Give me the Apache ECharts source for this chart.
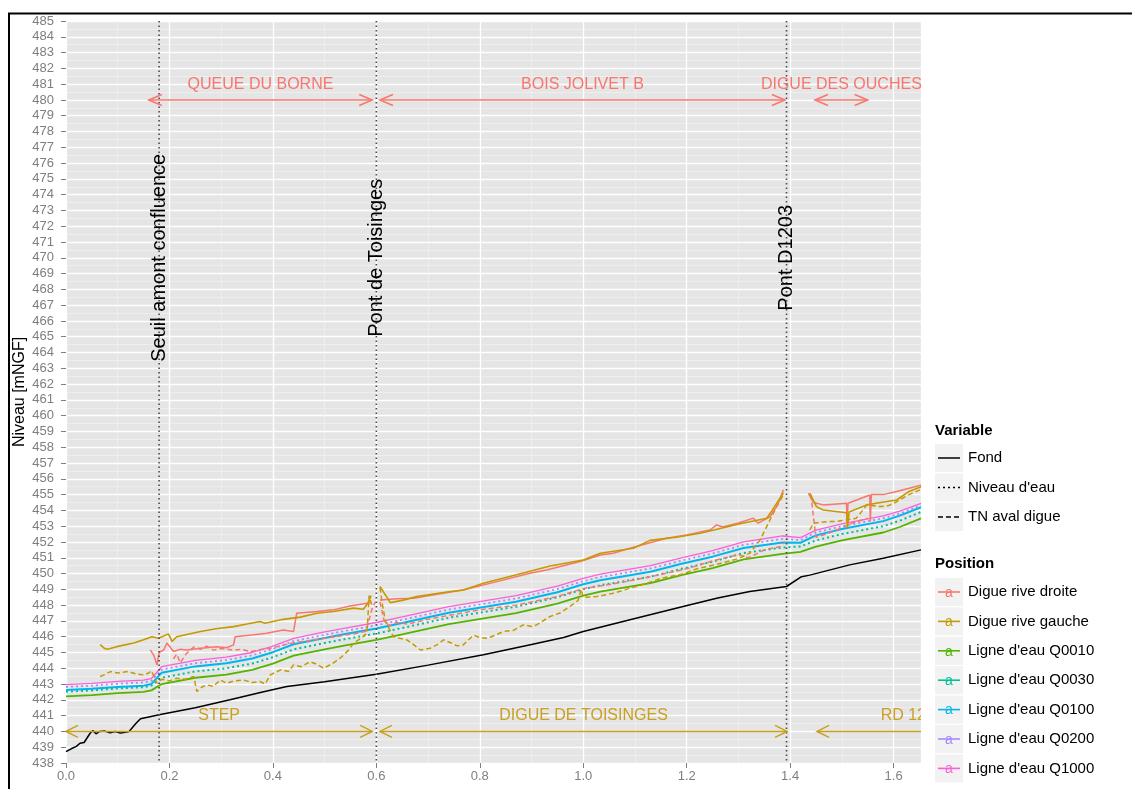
<!DOCTYPE html>
<html>
<head>
<meta charset="utf-8">
<script src="https://cdn.jsdelivr.net/npm/echarts@6/dist/echarts.min.js"></script>
<style>
  html, body { margin: 0; padding: 0; background: #ffffff; }
  #chart { width: 1132px; height: 789px; }
</style>
</head>
<body>
<div id="chart"></div>
<script>
// ---- Longitudinal profile: distance [km] vs level [mNGF] ----
const FONT = '"Liberation Sans", Arial, Helvetica, sans-serif';

// River bed (Fond)
const fond = [[0,438.72],[0.01,438.9],[0.02,439.05],[0.027,439.25],[0.035,439.3],[0.04,439.55],[0.047,439.9],[0.052,440.05],[0.058,439.85],[0.065,440.0],[0.075,440.02],[0.085,439.92],[0.095,440.0],[0.105,439.9],[0.115,439.95],[0.122,440.0],[0.135,440.5],[0.144,440.8],[0.16,440.92],[0.18,441.05],[0.25,441.5],[0.317,442.0],[0.38,442.5],[0.427,442.84],[0.5,443.15],[0.6,443.62],[0.7,444.2],[0.807,444.85],[0.9,445.5],[0.962,445.95],[1.0,446.33],[1.1,447.15],[1.193,447.91],[1.26,448.45],[1.322,448.86],[1.393,449.18],[1.422,449.8],[1.438,449.9],[1.515,450.55],[1.58,450.97],[1.653,451.5]];

// Water lines, one value per abscissa of waterX
const waterX = [0,0.05,0.1,0.15,0.165,0.185,0.25,0.31,0.36,0.40,0.44,0.5,0.54,0.6,0.65,0.74,0.87,0.95,1.0,1.033,1.13,1.19,1.25,1.31,1.385,1.42,1.45,1.5,1.58,1.612,1.653];
const q0010 = [442.22,442.3,442.42,442.5,442.6,443.0,443.4,443.6,443.9,444.3,444.8,445.2,445.45,445.8,446.15,446.8,447.5,448.1,448.6,448.86,449.4,449.9,450.35,450.9,451.25,451.37,451.7,452.1,452.6,452.95,453.5];
const q0030 = [442.52,442.6,442.72,442.8,442.9,443.4,443.8,444.0,444.3,444.7,445.2,445.6,445.85,446.2,446.55,447.2,447.9,448.5,449.0,449.26,449.8,450.3,450.75,451.3,451.65,451.72,452.1,452.5,453.0,453.35,453.9];
const q0100 = [442.62,442.7,442.82,442.9,443.0,443.72,444.12,444.32,444.62,445.02,445.52,445.92,446.17,446.52,446.87,447.52,448.22,448.82,449.32,449.58,450.12,450.62,451.07,451.62,451.97,451.95,452.42,452.82,453.32,453.67,454.2];
const q0200 = [442.82,442.9,443.02,443.1,443.2,443.92,444.32,444.52,444.82,445.22,445.72,446.12,446.37,446.72,447.07,447.72,448.42,449.02,449.52,449.78,450.32,450.82,451.27,451.82,452.2,452.12,452.6,453.0,453.5,453.8,454.32];
const q1000 = [442.97,443.05,443.17,443.25,443.35,444.1,444.5,444.7,445.0,445.4,445.9,446.3,446.55,446.9,447.25,447.9,448.6,449.2,449.7,449.96,450.5,451.0,451.45,452.0,452.38,452.28,452.75,453.15,453.65,453.95,454.45];

// Right-bank dike crest (Digue rive droite), split at the bridges
const digueRD = [
  [[0.163,445.16],[0.17,444.8],[0.176,444.2],[0.18,445.0],[0.189,445.16],[0.195,445.6],[0.208,445.06],[0.22,445.2],[0.234,445.16],[0.26,445.27],[0.292,445.37],[0.31,445.3],[0.324,445.48],[0.327,446.0],[0.363,446.12],[0.388,446.22],[0.42,446.43],[0.44,446.33],[0.446,447.49],[0.485,447.6],[0.517,447.7],[0.549,447.95],[0.582,448.12],[0.59,448.2]],
  [[0.607,448.33],[0.64,448.4],[0.672,448.44],[0.72,448.7],[0.768,448.96],[0.833,449.49],[0.897,450.02],[0.929,450.23],[0.994,450.76],[1.033,451.18],[1.058,451.29],[1.09,451.6],[1.161,452.23],[1.2,452.45],[1.245,452.76],[1.258,453.08],[1.27,452.95],[1.3,453.2],[1.329,453.51],[1.338,453.19],[1.361,453.6],[1.375,454.3],[1.387,455.3]],
  [[1.435,455.1],[1.445,454.5],[1.464,454.35],[1.509,454.45],[1.51,453.2],[1.512,454.45],[1.54,454.8],[1.554,454.98],[1.555,453.3],[1.557,455.0],[1.58,455.0],[1.606,455.2],[1.63,455.4],[1.653,455.6]]
];
// Left-bank dike crest (Digue rive gauche)
const digueRG = [
  [[0.066,445.5],[0.075,445.25],[0.08,445.2],[0.098,445.37],[0.131,445.6],[0.15,445.8],[0.166,446.0],[0.179,445.9],[0.198,446.18],[0.205,445.7],[0.214,446.0],[0.26,446.33],[0.29,446.5],[0.324,446.64],[0.35,446.8],[0.375,446.96],[0.385,446.85],[0.42,447.1],[0.453,447.24],[0.485,447.49],[0.517,447.6],[0.556,447.81],[0.575,447.74],[0.583,448.1],[0.59,448.6]],
  [[0.607,449.18],[0.627,448.16],[0.65,448.3],[0.678,448.54],[0.743,448.86],[0.768,448.96],[0.807,449.39],[0.871,449.92],[0.936,450.48],[1.0,450.86],[1.033,451.29],[1.097,451.6],[1.129,452.1],[1.18,452.3],[1.226,452.55],[1.277,452.95],[1.303,453.15],[1.355,453.5],[1.367,454.1],[1.387,455.1]],
  [[1.438,455.1],[1.451,454.24],[1.464,454.03],[1.509,453.85],[1.511,452.9],[1.514,453.9],[1.548,454.35],[1.575,454.5],[1.606,454.66],[1.63,455.2],[1.653,455.5]]
];
// Ground level behind the dikes (TN aval digue)
const tnRD = [
  [[0.208,444.6],[0.214,444.9],[0.221,444.35],[0.232,444.9],[0.247,445.35],[0.26,445.2],[0.272,445.4],[0.285,445.15],[0.3,445.25],[0.324,445.15],[0.34,445.2],[0.356,445.05],[0.38,445.2],[0.4,445.3],[0.43,445.55],[0.47,445.75],[0.5,445.9],[0.53,446.05],[0.56,446.2],[0.58,446.35],[0.592,447.8],[0.598,448.2]],
  [[0.607,448.2],[0.615,447.0],[0.625,446.7],[0.64,446.9],[0.66,446.8],[0.7,447.1],[0.74,447.35],[0.8,447.7],[0.87,448.0],[0.9,448.2],[0.95,448.55],[1.0,449.05],[1.05,449.3],[1.1,449.6],[1.13,449.8],[1.2,450.3],[1.25,450.8],[1.3,451.2],[1.32,451.0],[1.35,451.5],[1.38,451.7],[1.39,452.0]],
  [[1.44,455.0],[1.445,453.6],[1.45,452.3],[1.47,452.5],[1.5,452.9],[1.52,453.2],[1.55,453.5]]
];
const tnRG = [
  [[0.066,443.48],[0.075,443.6],[0.086,443.79],[0.1,443.7],[0.12,443.8],[0.135,443.65],[0.15,443.58],[0.16,443.7],[0.165,443.85],[0.176,443.05],[0.185,443.3],[0.2,443.2],[0.214,443.37],[0.23,443.3],[0.247,443.48],[0.253,442.53],[0.262,442.8],[0.272,442.95],[0.285,442.85],[0.298,443.26],[0.311,443.05],[0.325,443.2],[0.343,443.26],[0.36,443.1],[0.375,443.16],[0.385,443.0],[0.395,443.58],[0.415,443.9],[0.43,443.8],[0.44,444.21],[0.455,444.1],[0.472,444.42],[0.485,444.25],[0.498,444.0],[0.515,444.3],[0.53,444.64],[0.545,445.1],[0.556,445.59],[0.57,445.9],[0.582,446.22],[0.586,448.6],[0.591,448.0]],
  [[0.607,449.1],[0.612,448.0],[0.617,447.06],[0.625,446.5],[0.633,446.0],[0.645,445.9],[0.659,445.8],[0.672,445.5],[0.685,445.16],[0.704,445.27],[0.718,445.5],[0.73,445.8],[0.745,445.6],[0.756,445.42],[0.768,445.48],[0.788,446.1],[0.8,445.95],[0.814,445.9],[0.83,446.1],[0.846,446.33],[0.865,446.4],[0.884,446.75],[0.9,446.65],[0.91,446.75],[0.936,447.28],[0.955,447.5],[0.974,447.91],[0.99,448.3],[0.996,449.0],[1.0,448.5],[1.026,448.54],[1.058,448.75],[1.09,449.07],[1.12,449.35],[1.15,449.7],[1.19,449.95],[1.22,450.3],[1.26,450.6],[1.3,450.95],[1.322,451.29],[1.342,452.13],[1.361,453.4],[1.374,454.24],[1.387,454.98]],
  [[1.438,452.76],[1.445,453.19],[1.46,453.25],[1.477,453.29],[1.49,453.3],[1.51,453.4],[1.528,453.51],[1.54,454.0],[1.548,454.35],[1.574,454.24],[1.59,454.3],[1.606,454.55],[1.63,455.0],[1.651,455.3]]
];

// Structures (vertical markers) and reaches
const structures = [['Seuil amont confluence', 0.18], ['Pont de Toisinges', 0.6], ['Pont D1203', 1.393]];
const structureLabelLevel = 470;
const reachesTop = [['QUEUE DU BORNE', 0.16, 0.592], ['BOIS JOLIVET B', 0.607, 1.39], ['DIGUE DES OUCHES', 1.448, 1.55]];
const reachesBottom = [['STEP', 0, 0.592], ['DIGUE DE TOISINGES', 0.607, 1.394], ['RD 1203', 1.452, 1.82]];
const topLevel = 480, bottomLevel = 440;

// Legend entries
const variableItems = [['Fond', 'solid'], ["Niveau d'eau", [2, 3]], ['TN aval digue', [5, 3]]];
const positionItems = [
  ['Digue rive droite', '#F8766D'], ['Digue rive gauche', '#C49A00'],
  ["Ligne d'eau Q0010", '#53B400'], ["Ligne d'eau Q0030", '#00C094'],
  ["Ligne d'eau Q0100", '#00B6EB'], ["Ligne d'eau Q0200", '#A58AFF'],
  ["Ligne d'eau Q1000", '#FB61D7']
];

const RED = '#F8766D', GOLD = '#C49A00';

function lineSeries(data, color, type, width, z) {
  return {
    type: 'line', data: data, symbol: 'none', showSymbol: false, clip: true,
    silent: true, animation: false, z: z || 2,
    lineStyle: { color: color, width: width, type: type, cap: 'butt' }
  };
}
const pair = (ys) => waterX.map((x, i) => [x, ys[i]]);

const series = [];
series.push(lineSeries(pair(q0010), '#53B400', 'solid', 1.8));
series.push(lineSeries(pair(q0030), '#00C094', [2, 3], 2));
series.push(lineSeries(pair(q0100), '#00B6EB', 'solid', 2));
series.push(lineSeries(pair(q0200), '#A58AFF', [2, 3], 1.8));
series.push(lineSeries(pair(q1000), '#FB61D7', 'solid', 1.3));
tnRD.forEach(s => series.push(lineSeries(s, RED, [5, 3], 1.5, 3)));
tnRG.forEach(s => series.push(lineSeries(s, GOLD, [5, 3], 1.5, 3)));
digueRD.forEach(s => series.push(lineSeries(s, RED, 'solid', 1.5, 3)));
digueRG.forEach(s => series.push(lineSeries(s, GOLD, 'solid', 1.6, 3)));
series.push(lineSeries(fond, '#000000', 'solid', 1.5, 4));

// Dotted structure markers with rotated names
series.push({
  type: 'custom', clip: true, silent: true, animation: false, z: 5,
  data: structures.map(s => [s[1], structureLabelLevel]),
  renderItem: function (params, api) {
    const x = api.value(0);
    const top = api.coord([x, 485]);
    const bot = api.coord([x, 438]);
    const lab = api.coord([x, api.value(1)]);
    return {
      type: 'group', children: [
        { type: 'line', shape: { x1: top[0], y1: top[1], x2: bot[0], y2: bot[1] },
          style: { stroke: '#4a4a4a', lineWidth: 1.6, lineDash: [1.5, 3] } },
        { type: 'text', x: lab[0], y: lab[1], rotation: Math.PI / 2,
          style: { text: structures[params.dataIndex][0], fill: '#000', font: '20px ' + FONT,
                   align: 'center', verticalAlign: 'middle' } }
      ]
    };
  }
});

function reachSeries(list, level, color, head, spread) {
  return {
    type: 'custom', clip: true, silent: true, animation: false, z: 5,
    data: list.map(r => [r[1], r[2], level]),
    renderItem: function (params, api) {
      const a = api.coord([api.value(0), api.value(2)]);
      const b = api.coord([api.value(1), api.value(2)]);
      const t = api.coord([(api.value(0) + api.value(1)) / 2, api.value(2) + 1]);
      const st = { stroke: color, lineWidth: 1.5, fill: null };
      return {
        type: 'group', children: [
          { type: 'line', shape: { x1: a[0], y1: a[1], x2: b[0], y2: b[1] }, style: st },
          { type: 'polyline', shape: { points: [[a[0] + head, a[1] - spread], [a[0], a[1]], [a[0] + head, a[1] + spread]] }, style: st },
          { type: 'polyline', shape: { points: [[b[0] - head, b[1] - spread], [b[0], b[1]], [b[0] - head, b[1] + spread]] }, style: st },
          { type: 'text', x: t[0], y: t[1],
            style: { text: list[params.dataIndex][0], fill: color, font: '16px ' + FONT,
                     align: 'center', verticalAlign: 'middle' } }
        ]
      };
    }
  };
}
series.push(reachSeries(reachesTop, topLevel, RED, 13, 5.5));
series.push(reachSeries(reachesBottom, bottomLevel, '#C9A020', 12, 6));

// Legend drawn as graphic elements
const legend = [];
const LX = 935, KEY_W = 28, KEY_H = 28, TX = 968;
legend.push({ type: 'text', left: LX, top: 423, style: { text: 'Variable', font: 'bold 15px ' + FONT, fill: '#000' } });
variableItems.forEach((it, i) => {
  const cy = 458 + i * 29.5;
  legend.push({ type: 'rect', shape: { x: LX, y: cy - KEY_H / 2, width: KEY_W, height: KEY_H }, style: { fill: '#F2F2F2' } });
  legend.push({ type: 'line', shape: { x1: LX + 3, y1: cy, x2: LX + KEY_W - 3, y2: cy },
    style: { stroke: '#000', lineWidth: 1.5, lineDash: it[1] === 'solid' ? null : it[1] } });
  legend.push({ type: 'text', x: TX, y: cy, style: { text: it[0], font: '15px ' + FONT, fill: '#000', verticalAlign: 'middle' } });
});
legend.push({ type: 'text', left: LX, top: 556, style: { text: 'Position', font: 'bold 15px ' + FONT, fill: '#000' } });
positionItems.forEach((it, i) => {
  const cy = 592 + i * 29.4;
  legend.push({ type: 'rect', shape: { x: LX, y: cy - KEY_H / 2, width: KEY_W, height: KEY_H }, style: { fill: '#F2F2F2' } });
  legend.push({ type: 'line', shape: { x1: LX + 3, y1: cy, x2: LX + KEY_W - 3, y2: cy }, style: { stroke: it[1], lineWidth: 1.6 } });
  legend.push({ type: 'text', x: LX + KEY_W / 2, y: cy + 1, style: { text: 'a', font: '14px ' + FONT, fill: it[1], align: 'center', verticalAlign: 'middle' } });
  legend.push({ type: 'text', x: TX, y: cy, style: { text: it[0], font: '15px ' + FONT, fill: '#000', verticalAlign: 'middle' } });
});
// outer frame
legend.push({ type: 'rect', shape: { x: 9, y: 13.5, width: 1200, height: 900 }, style: { fill: null, stroke: '#000', lineWidth: 2 }, z: 10 });

const chart = echarts.init(document.getElementById('chart'), null, { renderer: 'canvas' });
chart.setOption({
  animation: false,
  backgroundColor: '#ffffff',
  textStyle: { fontFamily: FONT },
  grid: { left: 66, top: 21, width: 855, height: 742, show: true, backgroundColor: '#E5E5E5', borderWidth: 0,
          outerBoundsMode: 'none', containLabel: false },
  xAxis: {
    type: 'value', min: 0, max: 1.653, interval: 0.2,
    axisLine: { show: false },
    axisTick: { show: true, length: 5, lineStyle: { color: '#7F7F7F', width: 1 } },
    axisLabel: { color: '#7F7F7F', fontSize: 13, margin: 7, fontFamily: FONT, showMaxLabel: false,
                 formatter: v => v.toFixed(1) },
    splitLine: { show: true, lineStyle: { color: '#FFFFFF', width: 1.3 } },
    minorTick: { show: false, splitNumber: 2 },
    minorSplitLine: { show: true, lineStyle: { color: '#F2F2F2', width: 0.7 } }
  },
  yAxis: {
    type: 'value', min: 438, max: 485, interval: 1,
    name: 'Niveau [mNGF]', nameLocation: 'middle', nameGap: 38, nameMoveOverlap: false,
    nameTextStyle: { color: '#000', fontSize: 16, fontFamily: FONT },
    axisLine: { show: false },
    axisTick: { show: true, length: 5, lineStyle: { color: '#7F7F7F', width: 1 } },
    axisLabel: { color: '#7F7F7F', fontSize: 13, margin: 12, fontFamily: FONT },
    splitLine: { show: true, lineStyle: { color: '#FFFFFF', width: 1.3 } },
    minorTick: { show: false, splitNumber: 2 },
    minorSplitLine: { show: true, lineStyle: { color: '#F2F2F2', width: 0.7 } }
  },
  graphic: legend,
  series: series
});
</script>
</body>
</html>
